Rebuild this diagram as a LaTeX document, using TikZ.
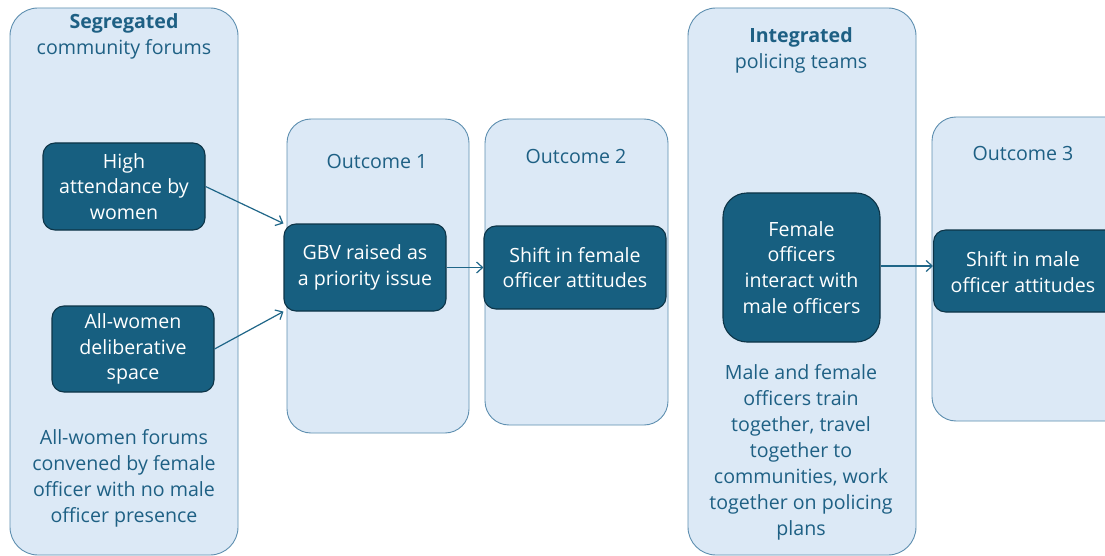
\documentclass[tikz,border=0pt]{standalone}
\usepackage{fontspec}
\setmainfont{Open Sans}
\usetikzlibrary{arrows.meta}
\definecolor{panelfill}{HTML}{DCE9F6}
\definecolor{paneledge}{HTML}{5E8FB0}
\definecolor{boxfill}{HTML}{175F80}
\definecolor{boxedge}{HTML}{0D3447}
\definecolor{paneltext}{HTML}{1E6084}
\definecolor{linkcol}{HTML}{1F6688}
\tikzset{
  panel/.style={draw=paneledge, fill=panelfill, line width=0.9pt, rounded corners=28pt},
  boxfont/.style={font=\fontsize{19.6}{25.8}\selectfont},
  darkbox/.style={draw=boxedge, fill=boxfill, line width=1.1pt, rounded corners=12pt,
    text=white, align=center, boxfont, inner sep=0pt},
  ptext/.style={text=paneltext, align=center, font=\fontsize{19.6}{26}\selectfont, inner sep=0pt},
  link/.style={draw=linkcol, line width=1.2pt, -{Straight Barb[length=6pt,width=11pt,line width=1.2pt]}}
}
\begin{document}
\begin{tikzpicture}[x=1pt,y=-1pt]
\useasboundingbox (0,0) rectangle (1105,556);
\clip (0,0) rectangle (1105,556);
\fill[white] (0,0) rectangle (1105,556);

% panels
\draw[panel] (10,8) rectangle (238,555);
\draw[panel, rounded corners=24pt] (287,119) rectangle (469,433);
\draw[panel, rounded corners=24pt] (485,119) rectangle (668,425);
\draw[panel] (688,8) rectangle (916,555);
\draw[panel, rounded corners=24pt] (932,117) rectangle (1140,421);

% panel headings
\node[ptext] (seghead) at (124,36.5) {\textbf{Segregated}\\community forums};
\node[ptext] (out1) at (377,161) {Outcome 1};
\node[ptext] (out2) at (576,156) {Outcome 2};
\node[ptext] (inthead) at (801,50.5) {\textbf{Integrated}\\policing teams};
\node[ptext] (out3) at (1023,153) {Outcome 3};

% panel notes
\node[ptext] (segnote) at (124,478.5) {All-women forums\\convened by female\\officer with no male\\officer presence};
\node[ptext] (intnote) at (801,452.5) {Male and female\\officers train\\together, travel\\together to\\communities, work\\together on policing\\plans};

% dark boxes
\node[darkbox, minimum width=162pt, minimum height=87pt] (high) at (124,186.5) {High\\attendance by\\women};
\node[darkbox, minimum width=162pt, minimum height=86pt] (allw) at (133,349) {All-women\\deliberative\\space};
\node[darkbox, minimum width=162pt, minimum height=87pt] (gbv) at (365,267.5) {GBV raised as\\a priority issue};
\node[darkbox, minimum width=182pt, minimum height=83pt] (shiftf) at (575,267.5) {Shift in female\\officer attitudes};
\node[darkbox, minimum width=157pt, minimum height=149pt, rounded corners=24pt] (fem) at (801.5,267.5) {Female\\officers\\interact with\\male officers};
\node[darkbox, minimum width=190pt, minimum height=82pt, anchor=west] (shiftm) at (933,271) {};
\node[text=white, align=center, boxfont, inner sep=0pt] (shiftmtext) at (1023,272) {Shift in male\\officer attitudes};

% connectors
\draw[link] (high.east) -- (gbv.north west);
\draw[link] (allw.east) -- (gbv.south west);
\draw[link] (gbv.east) -- (shiftf.west);
\draw[link] (fem.east |- 0,266) coordinate (fe) -- (fe -| shiftm.west);
\end{tikzpicture}
\end{document}
